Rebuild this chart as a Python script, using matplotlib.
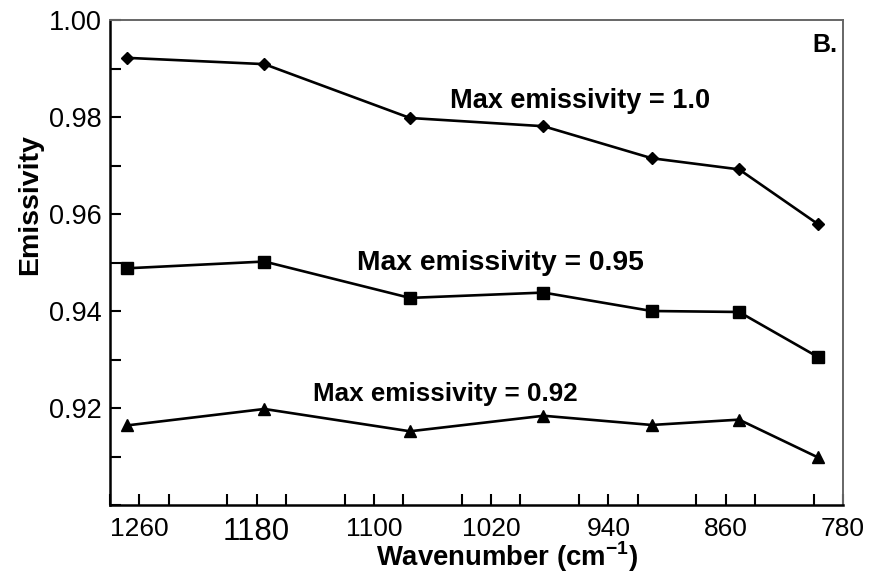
import matplotlib
matplotlib.use("Agg")
import matplotlib.pyplot as plt
from matplotlib.ticker import MultipleLocator

plt.rcParams['font.family'] = ['Liberation Sans', 'DejaVu Sans']
plt.rcParams['mathtext.fontset'] = 'custom'
plt.rcParams['mathtext.bf'] = 'Liberation Sans:bold'
plt.rcParams['mathtext.rm'] = 'Liberation Sans:bold'

wavenumber = [1268.6, 1174.7, 1075.4, 984.3, 910.5, 850.9, 797.0]
emis_100 = [0.9922, 0.9909, 0.9798, 0.9781, 0.9715, 0.9692, 0.9579]
emis_095 = [0.9488, 0.9502, 0.9427, 0.9438, 0.9400, 0.9398, 0.9305]
emis_092 = [0.9164, 0.9198, 0.9152, 0.9184, 0.9165, 0.9176, 0.9098]

labels = ["Max emissivity = 1.0", "Max emissivity = 0.95", "Max emissivity = 0.92"]
xticks = [1260, 1180, 1100, 1020, 940, 860, 780]
yticks = [0.92, 0.94, 0.96, 0.98, 1.00]

fig = plt.figure(figsize=(8.72, 5.74), dpi=100)
ax = fig.add_axes([110/872, 1-505/574, 733/872, 485/574])

ax.plot(wavenumber, emis_100, color='black', lw=1.9, marker='D', ms=6)
ax.plot(wavenumber, emis_095, color='black', lw=1.9, marker='s', ms=8)
ax.plot(wavenumber, emis_092, color='black', lw=1.9, marker='^', ms=8.5)

ax.set_xlim(1280, 780)
ax.set_ylim(0.90, 1.00)
ax.set_xticks(xticks)
ax.set_yticks(yticks)
ax.xaxis.set_minor_locator(MultipleLocator(40))
ax.yaxis.set_minor_locator(MultipleLocator(0.01))
ax.set_yticklabels([f"{v:.2f}" for v in yticks])
ax.set_xticklabels([str(v) for v in xticks])

ax.tick_params(axis='both', which='both', direction='in', length=8, width=1.5,
               top=False, right=False)
ax.tick_params(axis='x', which='major', pad=9, labelsize=19)
ax.tick_params(axis='y', which='major', pad=6, labelsize=19.5)
for lab in ax.get_xticklabels():
    if lab.get_text() == "1180":
        lab.set_fontsize(22.5)

for side in ['left', 'bottom']:
    ax.spines[side].set_linewidth(1.8)
    ax.spines[side].set_color('black')
for side in ['top', 'right']:
    ax.spines[side].set_linewidth(1.4)
    ax.spines[side].set_color('#666666')

ax.set_ylabel("Emissivity", fontsize=20.5, fontweight='bold')
ax.yaxis.set_label_coords(-0.091, 0.62)
ax.set_xlabel(r"Wavenumber (cm$^{\mathbf{-1}}$)", fontsize=19.8, fontweight='bold')
ax.xaxis.set_label_coords(0.542, -0.072)

ax.text(1048.1, 0.9818, labels[0], fontsize=19.5, fontweight='bold', ha='left', va='baseline')
ax.text(1111.7, 0.9484, labels[1], fontsize=20.3, fontweight='bold', ha='left', va='baseline')
ax.text(1141.5, 0.9214, labels[2], fontsize=18.7, fontweight='bold', ha='left', va='baseline')
ax.text(801.1, 0.9934, "B.", fontsize=18, fontweight='bold', ha='left', va='baseline')

fig.savefig("out.png", dpi=100)
